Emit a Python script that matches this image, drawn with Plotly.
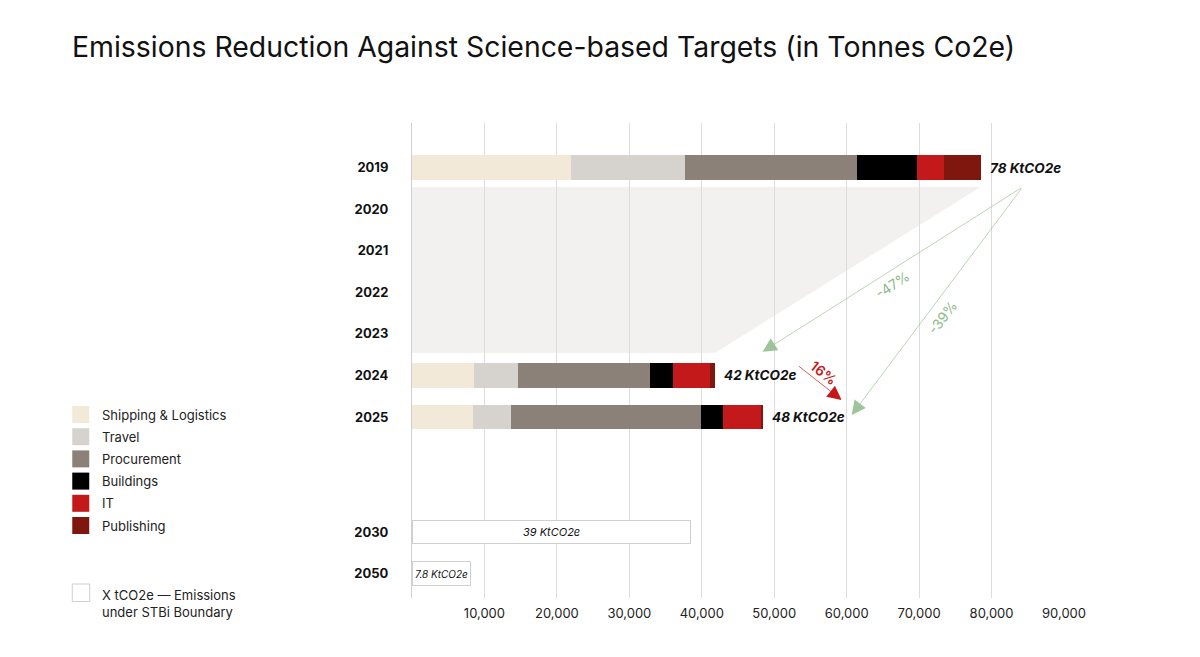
import plotly.graph_objects as go

# ---------------- data ----------------
rows = ["2019", "2020", "2021", "2022", "2023", "2024", "2025", "2030", "2050"]
bar_years = ["2019", "2024", "2025"]
series_names = ["Shipping & Logistics", "Travel", "Procurement", "Buildings", "IT", "Publishing"]
shipping = [21900, 8550, 8400]
travel = [15800, 6050, 5300]
procurement = [23700, 18200, 26200]
buildings = [8300, 3200, 3000]
it = [3800, 5200, 5400]
publishing = [5000, 600, 200]
total_labels = ["78 KtCO2e", "42 KtCO2e", "48 KtCO2e"]

target_years = ["2030", "2050"]
target_values = [38500, 8100]
target_labels = ["39 KtCO2e", "7.8 KtCO2e"]

x_ticks = [10000, 20000, 30000, 40000, 50000, 60000, 70000, 80000, 90000]
change_labels = ["-47%", "-39%", "16%"]
boundary_label = "X tCO2e — Emissions<br>under STBi Boundary"

# ---------------- styling / layout ----------------
colors = ["#f2e9d8", "#d6d3ce", "#8b8178", "#000000", "#c4191a", "#80170f"]
green = "#8dbb88"
red = "#c4191a"
row_pos = [0, 1, 2, 3, 4, 5, 6, 8.77, 9.77]
pos = dict(zip(rows, row_pos))
FONT = "Inter"

L, R, T, B = 412, 1064.5, 123, 598
W, H = R - L, B - T
def px_x(p):
    return (p - L) / W
def px_y(p):
    return (B - p) / H

series = [shipping, travel, procurement, buildings, it, publishing]
bar_y = [pos[y] for y in bar_years]

fig = go.Figure()
for name, vals, col in zip(series_names, series, colors):
    fig.add_trace(go.Bar(
        x=vals, y=bar_y, orientation="h", name=name,
        marker=dict(color=col, line=dict(width=0)),
        width=0.6, showlegend=False, hoverinfo="x+name",
    ))

fig.add_trace(go.Bar(
    x=target_values, y=[pos[y] for y in target_years], orientation="h",
    marker=dict(color="white", line=dict(color="#cfcfcf", width=1)),
    width=0.56, showlegend=False, base=0,
))

totals = [sum(s[i] for s in series) for i in range(len(bar_years))]

fig.update_layout(barmode="stack")

annotations = []
for t, yv, lab in zip(totals, bar_y, total_labels):
    annotations.append(dict(x=t, y=yv, text="<b><i>" + lab + "</i></b>", showarrow=False,
                            xanchor="left", xshift=7,
                            font=dict(family=FONT, size=13.5, color="#111"),
                            xref="x", yref="y"))
for v, yr, lab in zip(target_values, target_years, target_labels):
    annotations.append(dict(x=v / 2, y=pos[yr], text="<i>" + lab + "</i>", showarrow=False,
                            font=dict(family=FONT, size=11 if v > 20000 else 10, color="#111"),
                            xref="x", yref="y"))

# shaded reduction wedge between 2019 and 2024 totals
y_top, y_bot = 0.46, 4.46
path = f"M 0,{y_top} L {totals[0]},{y_top} L {totals[1]},{y_bot} L 0,{y_bot} Z"
shapes = [dict(type="path", path=path, xref="x", yref="y", fillcolor="#f2f1ef",
               line=dict(width=0), layer="below")]

# arrows
start_x, start_y = 84300, 0.46
arrow_specs = [
    (48400, 4.43, start_x, start_y, green),
    (60700, 5.95, start_x, start_y, green),
    (59300, 5.59, 53200, 4.75, red),
]
for hx, hy, tx, ty, col in arrow_specs:
    annotations.append(dict(x=hx, y=hy, ax=tx, ay=ty, xref="x", yref="y", axref="x", ayref="y",
                            text="", showarrow=True, arrowhead=2, arrowsize=4, arrowwidth=0.7,
                            arrowcolor=col, opacity=0.85 if col == green else 1))
change_pos = [(66300, 2.82, -33, green), (73200, 3.61, -53, green), (56800, 4.94, 38, red)]
for lab, (cx, cy, ang, col) in zip(change_labels, change_pos):
    annotations.append(dict(x=cx, y=cy, text=lab, showarrow=False, textangle=ang,
                            font=dict(family=FONT, size=14, color=col,
                                      weight=600 if col == red else 400),
                            xref="x", yref="y"))

# legend (manual)
for i, (name, col) in enumerate(zip(series_names, colors)):
    top = 406 + i * 22.2
    shapes.append(dict(type="rect", xref="paper", yref="paper",
                       x0=px_x(72), x1=px_x(89), y0=px_y(top + 17), y1=px_y(top),
                       fillcolor=col, line=dict(width=0)))
    annotations.append(dict(xref="paper", yref="paper", x=px_x(100), y=px_y(top + 8.5),
                            xanchor="left", yanchor="middle", text=name, showarrow=False,
                            font=dict(family=FONT, size=13, color="#222")))
shapes.append(dict(type="rect", xref="paper", yref="paper",
                   x0=px_x(72), x1=px_x(89.5), y0=px_y(601.5), y1=px_y(584),
                   fillcolor="white", line=dict(width=1, color="#cfcfcf")))
annotations.append(dict(xref="paper", yref="paper", x=px_x(100), y=px_y(603),
                        xanchor="left", yanchor="middle", align="left", text=boundary_label,
                        showarrow=False, font=dict(family=FONT, size=13, color="#222")))

fig.update_layout(
    width=1200, height=657,
    margin=dict(l=L, r=1200 - R, t=T, b=657 - B),
    paper_bgcolor="white", plot_bgcolor="white",
    title=dict(text="Emissions Reduction Against Science-based Targets (in Tonnes Co2e)",
               x=72 / 1200, xanchor="left", y=1 - 47 / 657, yanchor="middle",
               font=dict(family=FONT, size=28.4, color="#111")),
    xaxis=dict(range=[0, 90000], tickvals=x_ticks, tickformat=",", showgrid=True,
               gridcolor="#dcdcdc", gridwidth=1, zeroline=False, showline=False,
               tickfont=dict(family=FONT, size=13, color="#222"), ticks="",
               ticklabelstandoff=6),
    yaxis=dict(range=[10.36, -1.08], tickvals=row_pos, ticktext=rows, showgrid=False,
               zeroline=False, showline=True, linecolor="#d0d0d0", linewidth=1,
               tickfont=dict(family=FONT, size=13, color="#111", weight="bold"),
               ticks="", ticklabelstandoff=20),
    shapes=shapes, annotations=annotations, showlegend=False,
)

fig.write_html("out.html")
